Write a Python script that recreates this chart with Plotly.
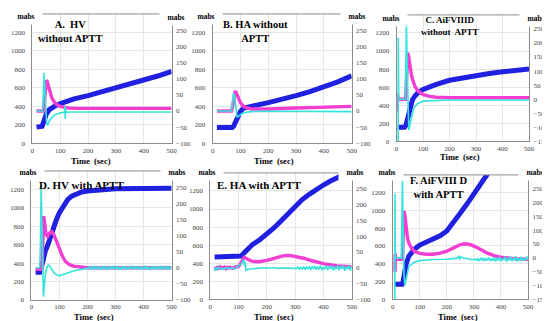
import plotly.graph_objects as go

W, H = 550, 321
BLUE = "#2020e0"
MAG = "#f23fd2"
CYAN = "#33e3dc"
FONT = "Liberation Serif, Times New Roman, serif"

# ---------------- Panel A: HV without APTT ----------------
a_t_blue = [15, 30, 35, 40, 45, 50, 60, 70, 80, 100, 125, 150, 200, 250, 300, 350, 400, 450, 500]
a_blue = [175, 176, 185, 225, 275, 315, 362, 385, 402, 430, 458, 480, 516, 557, 598, 640, 680, 728, 777]
a_t_mag = [15, 38, 41, 44, 47, 50, 53, 57, 62, 70, 80, 90, 100, 115, 130, 160, 200, 300, 400, 500]
a_mag = [0, 0, 5, 45, 80, 94, 92, 80, 62, 40, 26, 18, 14, 11, 9, 8, 8, 8, 8, 8]
a_t_cyan = [15, 36, 38, 40, 42, 44, 47, 51, 55, 60, 70, 80, 100, 115, 117, 118, 119, 121, 140, 200, 300, 400, 500]
a_cyan = [0, 0, 20, 90, 117, 80, 10, -35, -45, -32, -20, -12, -6, -4, 15, -25, 10, -4, -3, -3, -3, -3, -3]

# ---------------- Panel B: HA without APTT ----------------
b_t_blue = [15, 70, 75, 80, 90, 100, 110, 130, 150, 200, 250, 300, 350, 400, 450, 500]
b_blue = [170, 170, 185, 220, 300, 345, 378, 395, 407, 440, 475, 515, 560, 610, 665, 730]
b_t_mag = [15, 68, 72, 76, 80, 84, 90, 100, 110, 120, 140, 170, 200, 300, 400, 500]
b_mag = [0, 0, 15, 45, 58, 58, 45, 25, 15, 10, 6, 5, 6, 9, 12, 14]
b_t_cyan = [15, 68, 71, 75, 78, 82, 88, 95, 105, 120, 140, 200, 300, 400, 500]
b_cyan = [0, 0, 25, 55, 50, 20, -20, -15, -8, -4, -2, -1, -1, -1, -2]

# ---------------- Panel C: AiFVIIID without APTT ----------------
c_t_blue = [4, 30, 35, 40, 45, 50, 60, 70, 80, 100, 125, 150, 200, 250, 300, 350, 400, 450, 500]
c_blue = [155, 155, 175, 240, 320, 388, 461, 505, 535, 575, 605, 630, 676, 705, 731, 752, 770, 786, 801]
c_t_mag = [3, 3.5, 5, 7, 33, 35, 37, 40, 42, 45, 50, 55, 60, 70, 80, 100, 125, 150, 200, 300, 400, 500]
c_mag = [-45, 20, 5, 0, 0, 20, 80, 150, 165, 155, 118, 92, 71, 44, 30, 16, 10, 7, 5, 5, 5, 5]
c_t_cyan = [6, 6.5, 7, 8, 33, 35, 37, 40, 43, 46, 50, 55, 62, 70, 80, 100, 150, 200, 300, 400, 500]
c_cyan = [-150, 220, -150, 0, 0, 150, 270, 120, -60, -110, -95, -65, -40, -25, -15, -7, -4, -3, -3, -3, -3]

# ---------------- Panel D: HV with APTT ----------------
d_t_blue = [15, 30, 33, 36, 40, 45, 50, 60, 70, 80, 90, 100, 115, 130, 145, 160, 180, 200, 250, 300, 400, 500]
d_blue = [300, 300, 320, 370, 430, 490, 535, 610, 715, 802, 880, 947, 1030, 1091, 1130, 1153, 1172, 1182, 1200, 1207, 1210, 1212]
d_t_mag = [15, 38, 40, 42, 44, 47, 52, 58, 65, 72, 80, 90, 100, 110, 120, 135, 150, 175, 200, 300, 400, 500]
d_mag = [-5, -5, 60, 150, 160, 140, 105, 97, 108, 112, 103, 82, 57, 37, 21, 10, 5, 2, 0, 0, 0, 0]
d_t_cyan = [15, 30, 32, 34, 35, 37, 39, 41, 43, 46, 50, 55, 60, 65, 70, 80, 90, 100, 110, 130, 150, 170, 185,
            200, 205, 210, 215, 220, 225, 230, 235, 240, 245, 250, 255, 260, 265, 270, 275, 280, 285, 290, 295,
            300, 305, 310, 315, 320, 325, 330, 335, 340, 345, 350, 355, 360, 365, 370, 375, 380, 385, 390, 395,
            400, 405, 410, 415, 420, 425, 430, 435, 440, 445, 450, 455, 460, 465, 470, 475, 480, 485, 490, 495, 500]
d_cyan = [0, 0, 60, 200, 255, 150, 20, -70, -90, -60, -20, 0, 8, 5, -3, -15, -22, -25, -22, -15, -10, -6, -3,
          -2, 3, -4, 2, -3, 5, -5, 2, -2, 4, -6, 3, -3, 5, -4, 2, -5, 4, -3, 6,
          -5, 3, -4, 2, -6, 5, -3, 4, -5, 2, -4, 6, -5, 3, -2, 5, -6, 4, -3, 2,
          -5, 6, -4, 3, -5, 2, -3, 5, -6, 4, -2, 3, -5, 6, -4, 2, -3, 5, -5, 3, -2]

# ---------------- Panel E: HA with APTT ----------------
e_t_blue = [15, 100, 110, 120, 135, 150, 175, 200, 225, 250, 275, 300, 325, 350, 375, 400, 425, 450, 468]
e_blue = [470, 470, 480, 517, 570, 609, 660, 720, 790, 868, 950, 1034, 1105, 1163, 1220, 1266, 1310, 1348, 1375]
e_t_mag = [15, 20, 25, 30, 35, 40, 45, 50, 55, 60, 65, 70, 75, 80, 85, 90, 95,
           100, 105, 110, 115, 120, 125, 135, 150, 170, 200, 230, 260, 280, 300, 330, 360, 400, 450, 500]
e_mag = [2, -3, 1, -2, 3, -1, 0, 2, -3, 1, -1, 2, 0, -2, 1, 3, 2,
         4, 10, 18, 26, 33, 31, 25, 20, 19, 23, 30, 38, 39, 36, 30, 22, 13, 6, 3]
e_t_cyan = [15, 20, 25, 30, 35, 40, 45, 50, 55, 60, 65, 70, 75, 80, 85, 90, 95,
            100, 105, 110, 113, 116, 119, 121, 123, 126, 130, 140, 150,
            160, 170, 180, 190, 200, 210, 220, 230, 240, 250, 260, 270, 280, 290, 300,
            305, 310, 315, 320, 325, 330, 335, 340, 345, 350, 355, 360, 365, 370, 375, 380, 385, 390, 395, 400,
            405, 410, 415, 420, 425, 430, 435, 440, 445, 450, 455, 460, 465, 470, 475, 480, 485, 490, 495, 500]
e_cyan = [-10, 2, -6, 0, -4, -1, -5, -2, 0, -4, -1, -3, 1, -2, -4, 0, 3,
          5, 8, 12, 18, 22, 25, 5, 18, -8, -6, -4, -3,
          -2, -1, -2, 0, -1, -2, -1, 0, -2, -1, -1, -2, 0, -1, -2,
          -3, 2, -5, 1, -4, 3, -6, 2, -3, 4, -7, 3, -2, 5, -6, 2, -4, 6, -8, 3,
          -3, 5, -7, 4, -2, 6, -9, 3, -4, 7, -8, 5, -3, 6, -10, 4, -5, 7, -9, 5]

# ---------------- Panel F: AiFVIII D with APTT ----------------
f_t_blue = [5, 35, 38, 42, 45, 50, 60, 70, 80, 100, 125, 150, 175, 200, 225, 250, 275, 300, 320, 340, 350]
f_blue = [170, 170, 190, 260, 319, 400, 487, 530, 562, 611, 645, 675, 715, 769, 860, 970, 1075, 1181, 1280, 1370, 1410]
f_t_mag = [9, 9.5, 10, 12, 36, 38, 40, 42, 45, 50, 55, 60, 70, 80, 100, 125, 150, 175, 200, 225, 250, 270,
           290, 310, 330, 350, 375, 400, 450, 500]
f_mag = [-50, 15, -5, -5, -5, 40, 140, 170, 155, 100, 70, 53, 35, 24, 16, 13, 13, 17, 24, 36, 48, 51,
         47, 38, 28, 17, 8, 2, -3, -5]
f_t_cyan = [8, 8.5, 9, 10, 32, 34, 36, 38, 40, 42, 45, 50, 60, 80, 100, 150, 200, 240, 245, 248, 252, 260,
            270, 280, 290, 300,
            305, 310, 315, 320, 325, 330, 335, 340, 345, 350, 355, 360, 365, 370, 375, 380, 385, 390, 395, 400,
            405, 410, 415, 420, 425, 430, 435, 440, 445, 450, 455, 460, 465, 470, 475, 480, 485, 490, 495, 500]
f_cyan = [-150, 233, -150, 0, 0, 100, 280, 150, 20, -60, -100, -80, -30, -16, -10, -6, -5, -1, 8, -6, 3, 0,
          -3, -4, -6, -7,
          -4, -9, -3, -10, -2, -8, 0, -12, -3, -7, 1, -11, -4, -9, 2, -13, -2, -8, 3, -12,
          -5, -6, 4, -14, -1, -9, 5, -12, -3, -7, 6, -13, -2, -10, 4, -11, -4, -6, 5, -9]

x_ticks = [0, 100, 200, 300, 400, 500]
left_ticks = [0, 200, 400, 600, 800, 1000, 1200]

# layout helpers (pixel -> paper)
def px(x):
    return x / W

def py(y):
    return 1 - y / H

panels = [
    dict(tb=a_t_blue, b=a_blue, tm=a_t_mag, m=a_mag, tc=a_t_cyan, c=a_cyan, rmin=-100,
         box=(22.7, 164, 6, 137), title="A.\u00a0 HV<br>without APTT", tpos=(61, 24), tsize=10.5,
         mL=(16.5, 9), mR=(168, 9.5), time=(82.5, 155)),
    dict(tb=b_t_blue, b=b_blue, tm=b_t_mag, m=b_mag, tc=b_t_cyan, c=b_cyan, rmin=-100,
         box=(205.7, 346.7, 6, 137), title="B. HA without<br>APTT", tpos=(249, 24), tsize=10.5,
         mL=(199, 9), mR=(352, 9), time=(267.5, 155)),
    dict(tb=c_t_blue, b=c_blue, tm=c_t_mag, m=c_mag, tc=c_t_cyan, c=c_cyan, rmin=-150,
         box=(392.3, 526.7, 7, 135), title="C. AiFVIIID<br>without\u00a0 APTT", tpos=(447, 18.5), tsize=9,
         mL=(387, 11), mR=(534, 11), time=(456.7, 151)),
    dict(tb=d_t_blue, b=d_blue, tm=d_t_mag, m=d_mag, tc=d_t_cyan, c=d_cyan, rmin=-100,
         box=(21.7, 164, 165, 295.7), title="D. HV with APTT", tpos=(73, 179), tsize=11,
         mL=(18, 167), mR=(169, 167), time=(85, 313)),
    dict(tb=e_t_blue, b=e_blue, tm=e_t_mag, m=e_mag, tc=e_t_cyan, c=e_cyan, rmin=-100,
         box=(203.3, 346.7, 167, 295), title="E. HA with APTT", tpos=(253, 179), tsize=11,
         mL=(200, 167), mR=(350, 167), time=(268, 313)),
    dict(tb=f_t_blue, b=f_blue, tm=f_t_mag, m=f_mag, tc=f_t_cyan, c=f_cyan, rmin=-150,
         box=(388.3, 525.7, 169, 295), title="F. AiFVIII D<br>with APTT", tpos=(435, 181.5), tsize=10.5,
         mL=(383, 167), mR=(533, 167), time=(455, 313)),
]

fig = go.Figure()
layout = dict(width=W, height=H, margin=dict(l=0, r=0, t=0, b=0), autosize=False,
              paper_bgcolor="white", plot_bgcolor="white", showlegend=False,
              font=dict(family=FONT))
mabs_notes = []
other_notes = []
shapes = []
tickfont = dict(family=FONT, size=7, color="#444444")

for i, p in enumerate(panels, start=1):
    xn = "x" if i == 1 else f"x{i}"
    yl = "y" if i == 1 else f"y{i}"
    yr = f"y{i + 6}"
    x0, x1, ytop, ybot = p["box"]
    xdom = [px(x0), px(x1)]
    ydom = [py(ybot), py(ytop)]
    layout["xaxis" if i == 1 else f"xaxis{i}"] = dict(
        domain=xdom, anchor=yl, range=[0, 500], tickvals=x_ticks, showgrid=True,
        gridcolor="#e6e6e6", gridwidth=1, zeroline=False, showline=True, linecolor="#8c8c8c",
        linewidth=1, ticks="", tickfont=tickfont)
    layout["yaxis" if i == 1 else f"yaxis{i}"] = dict(
        domain=ydom, anchor=xn, range=[0, 1400], tickvals=left_ticks, showgrid=True,
        gridcolor="#e6e6e6", gridwidth=1, zeroline=False, showline=True, linecolor="#8c8c8c",
        linewidth=1, ticks="outside", ticklen=5, tickcolor="rgba(0,0,0,0)", tickfont=tickfont)
    rt = list(range(p["rmin"], 251, 50))
    layout[f"yaxis{i + 6}"] = dict(
        domain=ydom, anchor=xn, overlaying=yl, side="right", range=[p["rmin"], 300], tickvals=rt,
        showgrid=False, zeroline=False, showline=True, linecolor="#8c8c8c", linewidth=1,
        ticks="outside", ticklen=2, tickcolor="rgba(0,0,0,0)", tickfont=tickfont)

    fig.add_trace(go.Scatter(x=p["tb"], y=p["b"], mode="lines", xaxis=xn, yaxis=yl,
                             line=dict(color=BLUE, width=5), hoverinfo="skip"))
    fig.add_trace(go.Scatter(x=p["tm"], y=p["m"], mode="lines", xaxis=xn, yaxis=yr,
                             line=dict(color=MAG, width=3.4), hoverinfo="skip"))
    fig.add_trace(go.Scatter(x=p["tc"], y=p["c"], mode="lines", xaxis=xn, yaxis=yr,
                             line=dict(color=CYAN, width=1.6), hoverinfo="skip"))

    # top frame line
    shapes.append(dict(type="line", xref="paper", yref="paper", x0=px(x0), x1=px(x1),
                       y0=py(ytop), y1=py(ytop), line=dict(color="#8c8c8c", width=1), layer="above"))

    # mabs labels (white box hides the frame corners)
    for key in ("mL", "mR"):
        mabs_notes.append(dict(text="<b>mabs</b>", x=px(p[key][0]), y=py(p[key][1]),
                               xref="paper", yref="paper", xanchor="center", yanchor="middle",
                               showarrow=False, bgcolor="white", width=30, height=13, borderpad=1,
                               font=dict(family=FONT, size=7.5, color="black")))
    # title
    other_notes.append(dict(text=f"<b>{p['title']}</b>", x=px(p["tpos"][0]), y=py(p["tpos"][1]),
                            xref="paper", yref="paper", xanchor="center", yanchor="middle",
                            showarrow=False, font=dict(family=FONT, size=p["tsize"], color="black")))
    other_notes.append(dict(text="<b>Time\u00a0 (sec)</b>", x=px(p["time"][0]), y=py(p["time"][1]),
                            xref="paper", yref="paper", xanchor="center", yanchor="middle",
                            showarrow=False, font=dict(family=FONT, size=8.5, color="black")))

layout["annotations"] = mabs_notes + other_notes
layout["shapes"] = shapes
fig.update_layout(**layout)
fig.write_html("out.html")
